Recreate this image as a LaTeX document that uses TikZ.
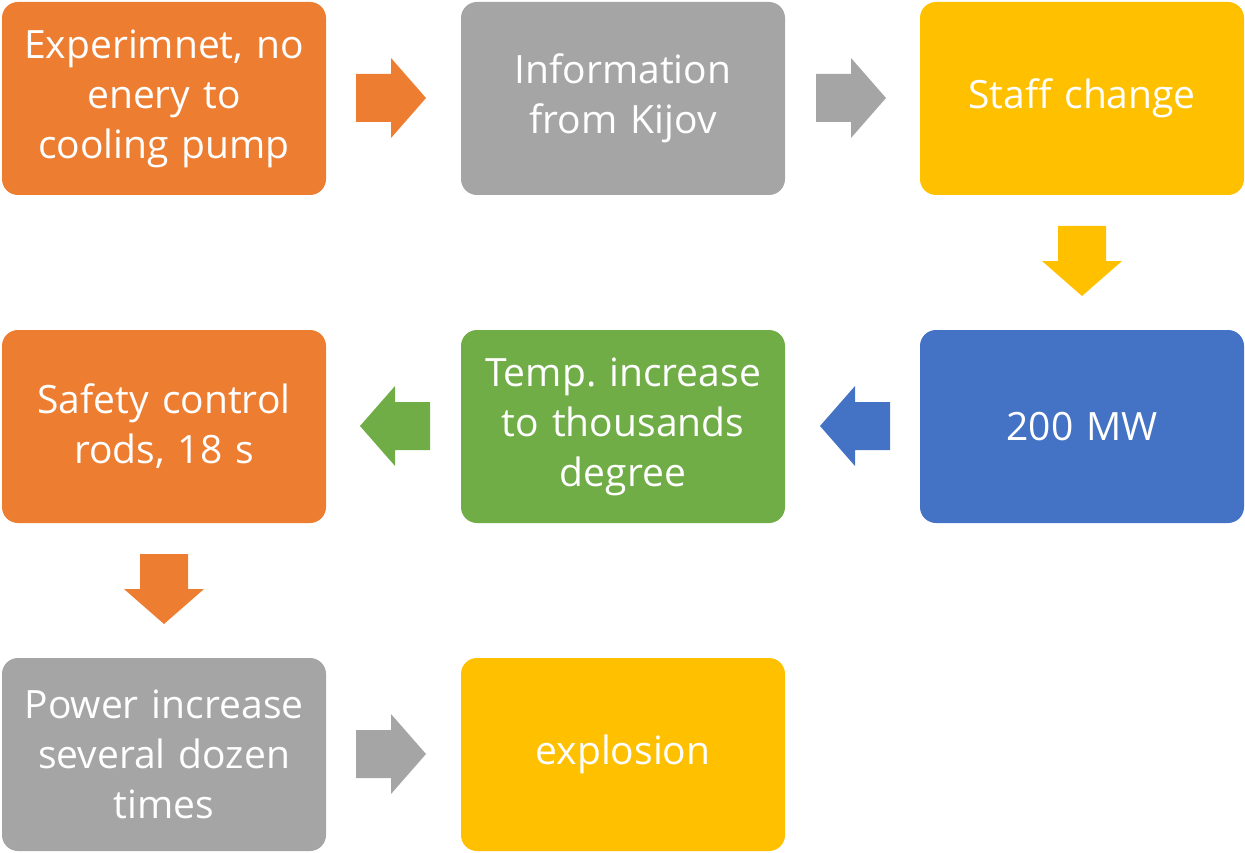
\documentclass[tikz,border=0pt]{standalone}
\usepackage{fontspec}
\setmainfont{Open Sans}
\usetikzlibrary{positioning}

\definecolor{accorange}{HTML}{ED7D31}
\definecolor{accgray}{HTML}{A5A5A5}
\definecolor{accgold}{HTML}{FFC000}
\definecolor{accblue}{HTML}{4472C4}
\definecolor{accgreen}{HTML}{70AD47}

\tikzset{
  stepbox/.style={rectangle, rounded corners=16pt, minimum width=324pt,
    minimum height=193pt, text width=310pt, align=center, text=white,
    font=\fontsize{39}{50}\selectfont\frenchspacing, inner sep=0pt},
  pics/blockarrow/.style={code={
    \fill (-35,-24) -- (0,-24) -- (0,-40) -- (35,0) -- (0,40) -- (0,24) -- (-35,24) -- cycle;
  }}
}

\begin{document}
\begin{tikzpicture}[x=1pt,y=-1pt]
  \useasboundingbox (0,0) rectangle (1245,853);

  % top row
  \node[stepbox, fill=accorange] (experiment) at (164,98.5) {Experimnet, no\\enery to\\cooling pump};
  \node[stepbox, fill=accgray] (info) at (623,98.5) {Information\\from Kijov};
  \node[stepbox, fill=accgold] (staff) at (1082,98.5) {Staff change};

  % middle row
  \node[stepbox, fill=accblue] (power) at (1082,426.5) {200 MW};
  \node[stepbox, fill=accgreen] (temp) at (623,426.5) {Temp. increase\\to thousands\\degree};
  \node[stepbox, fill=accorange] (rods) at (164,426.5) {Safety control\\rods, 18 s};

  % bottom row
  \node[stepbox, fill=accgray] (increase) at (164,754.5) {Power increase\\several dozen\\times};
  \node[stepbox, fill=accgold] (explosion) at (623,754.5) {explosion};

  % block arrows between the boxes
  \pic[accorange] at (391,98) {blockarrow};
  \pic[accgray] at (851,98) {blockarrow};
  \pic[accgold, rotate=-90] at (1082,261) {blockarrow};
  \pic[accblue, rotate=180] at (855,426) {blockarrow};
  \pic[accgreen, rotate=180] at (395,426) {blockarrow};
  \pic[accorange, rotate=-90] at (164,589) {blockarrow};
  \pic[accgray] at (391,754) {blockarrow};
\end{tikzpicture}
\end{document}
